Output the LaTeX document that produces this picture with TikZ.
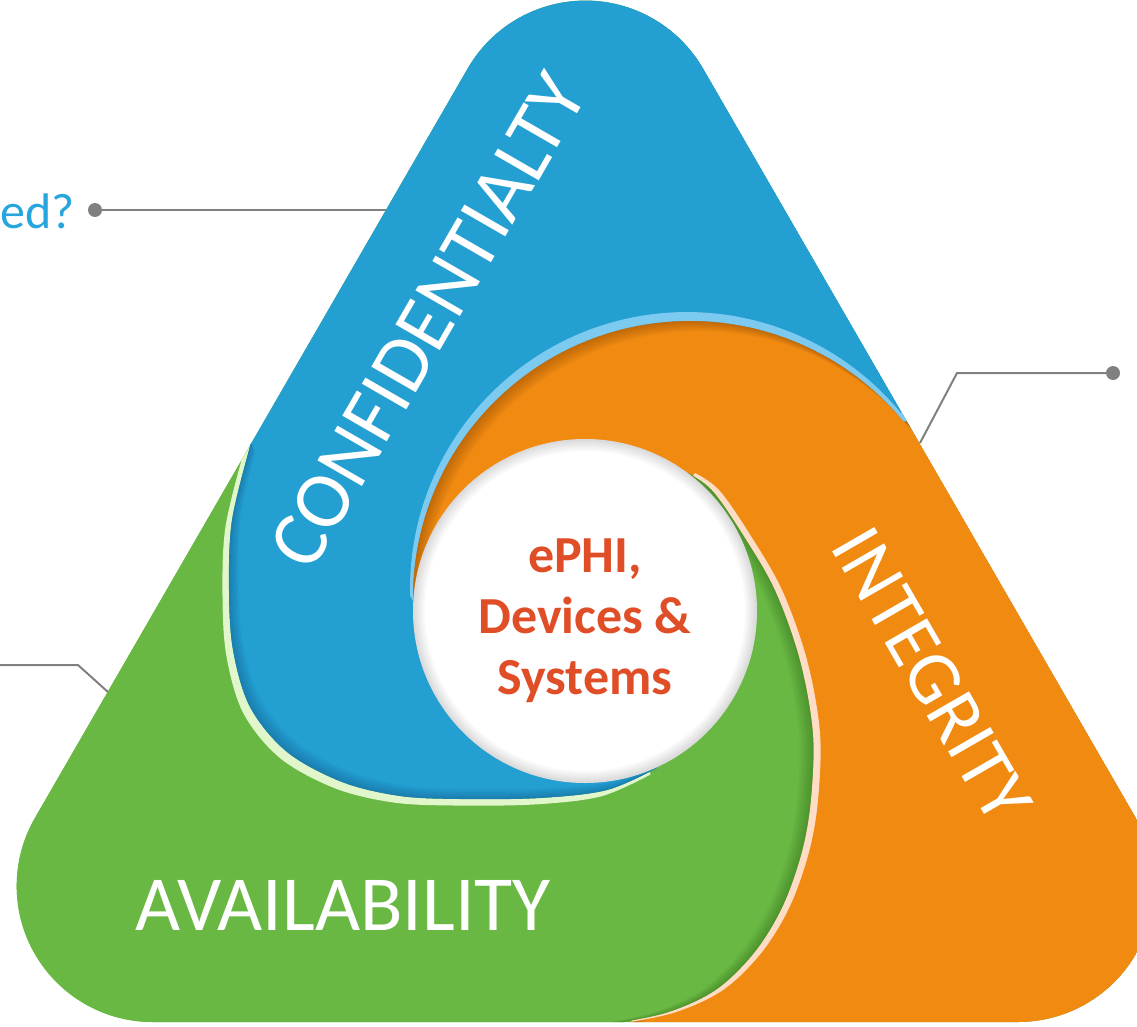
\documentclass[tikz,border=0pt]{standalone}
\usepackage{fontspec}
\setmainfont{Carlito}
\definecolor{cblue}{RGB}{35,159,210}
\definecolor{corange}{RGB}{240,138,17}
\definecolor{cgreen}{RGB}{105,184,67}
\definecolor{rimblue}{RGB}{125,202,240}
\definecolor{rimgreen}{RGB}{226,246,204}
\definecolor{rimpeach}{RGB}{253,221,197}
\definecolor{ctext}{RGB}{224,78,39}
\definecolor{cline}{RGB}{128,128,128}
\definecolor{cq}{RGB}{38,166,220}
\definecolor{shblue}{RGB}{10,55,95}
\definecolor{shorange}{RGB}{110,55,0}
\definecolor{shgreen}{RGB}{30,80,15}

\def\Tpath{(467.6,68.6) arc[start angle=150,end angle=30,radius=136pt] -- (1135.9,818) arc[start angle=30,end angle=-90,radius=136pt] -- (152.7,1022) arc[start angle=-90,end angle=-210,radius=136pt] -- cycle}
\def\BFpath{(200,440) -- plot[smooth,tension=0.55] coordinates {(251,443) (232,520) (229,590) (233,650) (250,707) (287,752) (342,782) (400,796) (460,799) (540,798) (607,790) (657,768)} -- (640,700) -- (585,520) -- (560,400) -- (930,445) -- (1100,300) -- (585,-300) -- (100,300) -- cycle}
\def\OFpath{(413.1,604.8) arc[start angle=181.4,end angle=39.5,radius=277pt] -- (1000,400) -- (1300,900) -- (1150,1100) -- (600,1100) -- (700,850) -- (700,700) -- (440,650) -- cycle}
\def\GFpath{(688,473) -- plot[smooth,tension=0.55] coordinates {(688,473) (712,490) (742,533) (775,590) (800,660) (813,733) (811,800) (802,852) (783,906) (755,952) (716,990) (666,1013) (605,1025)} -- (540,1040) -- (-100,1100) -- (-100,500) -- (200,420) -- (251,443) -- (330,620) -- (450,650) -- (585,611) -- cycle}
\def\Big{(-2000,-2000) rectangle (3000,3000)}

\begin{document}
\begin{tikzpicture}[x=1pt,y=-1pt,
  conn/.style={draw=cline, line width=2pt},
  dotn/.style={circle, fill=cline, inner sep=0pt, minimum size=14pt},
  lbl/.style={text=white, inner sep=0pt},
  core/.style={text=ctext, font=\bfseries\fontsize{52}{61}\selectfont, align=center, inner sep=0pt}]
\useasboundingbox (0,0) rectangle (1137,1027);
\clip (0,0) rectangle (1137,1027);

\begin{scope}
\clip \Tpath;
\fill[cgreen] \Tpath;
% blue full region
\fill[cblue] \BFpath;
% light blue rim outside orange arc (on blue)
\begin{scope}[shift={(-3,-9)}]
  \clip \OFpath;
  \begin{scope}[shift={(3,9)}]
    \clip \BFpath;
    \fill[rimblue, even odd rule] \Big \OFpath;
  \end{scope}
\end{scope}
% orange full region
\fill[corange] \OFpath;
% orange shadow
\begin{scope}
  \clip \OFpath;
  \foreach \d in {2,4,...,14}{
    \begin{scope}[shift={(0.7*\d,0.7*\d)}]
      \fill[shorange, opacity=0.055, even odd rule] \Big \OFpath;
    \end{scope}}
\end{scope}
% green full region
\fill[cgreen] \GFpath;
% green shadow
\begin{scope}
  \clip \GFpath;
  \foreach \d in {2,4,...,14}{
    \begin{scope}[shift={(-\d,0)}]
      \fill[shgreen, opacity=0.05, even odd rule] \Big \GFpath;
    \end{scope}}
\end{scope}
% peach rim outside green arc (on orange)
\begin{scope}[shift={(7,0)}]
  \clip \GFpath;
  \begin{scope}[shift={(-7,0)}]
    \clip \OFpath;
    \fill[rimpeach, even odd rule] \Big \GFpath;
  \end{scope}
\end{scope}
% light green rim outside blue arc (on green)
\begin{scope}[shift={(-6.5,6.5)}]
  \clip \BFpath;
  \begin{scope}[shift={(6.5,-6.5)}]
    \clip \GFpath;
    \fill[rimgreen, even odd rule] \Big \BFpath;
  \end{scope}
\end{scope}
% blue over green
\begin{scope}
  \clip \GFpath;
  \fill[cblue] \BFpath;
\end{scope}
% hide the seam of the clip inside the blue arm
\begin{scope}
  \clip \BFpath;
  \draw[cblue, line width=3pt] (251,443) -- (330,620) -- (450,650);
\end{scope}
% blue shadow along its outer arc
\begin{scope}
  \clip \GFpath;
  \clip \BFpath;
  \foreach \d in {2,4,...,14}{
    \begin{scope}[shift={(0.7*\d,-0.7*\d)}]
      \fill[shblue, opacity=0.045, even odd rule] \Big \BFpath;
    \end{scope}}
\end{scope}
\end{scope}

% white centre
\fill[white] (585,611) circle[radius=172pt];
\begin{scope}
  \clip (585,611) circle[radius=172pt];
  \foreach \w in {4,8,...,24}
    \draw[black, opacity=0.022, line width=\w pt] (585,611) circle[radius=172pt];
\end{scope}

% labels
\node[lbl, rotate=60, font=\fontsize{80}{82}\selectfont] (conf) at (428,321) {CONFIDENTIALTY};
\node[lbl, rotate=-60, font=\fontsize{76}{78}\selectfont] (integ) at (932,675) {INTEGRITY};
\node[lbl, font=\fontsize{78}{80}\selectfont] (avail) at (343,905) {AVAILABILITY};
\node[core] (core) at (585,621) {ePHI,\\Devices \&\\Systems};

% callouts
\node[anchor=base east, text=cq, font=\fontsize{50}{54}\selectfont, inner sep=0pt] (q1) at (75,228) {ed?};
\node[dotn] (d1) at (95,210) {};
\coordinate (e1) at (386,210);
\draw[conn] (d1) -- (e1);
\node[dotn] (d2) at (1113,373) {};
\coordinate (k2) at (957,373);
\coordinate (e2) at (920,443);
\draw[conn] (d2) -- (k2) -- (e2);
\coordinate (s3) at (-5,665);
\coordinate (k3) at (78,665);
\coordinate (e3) at (108,692);
\draw[conn] (s3) -- (k3) -- (e3);
\end{tikzpicture}
\end{document}
